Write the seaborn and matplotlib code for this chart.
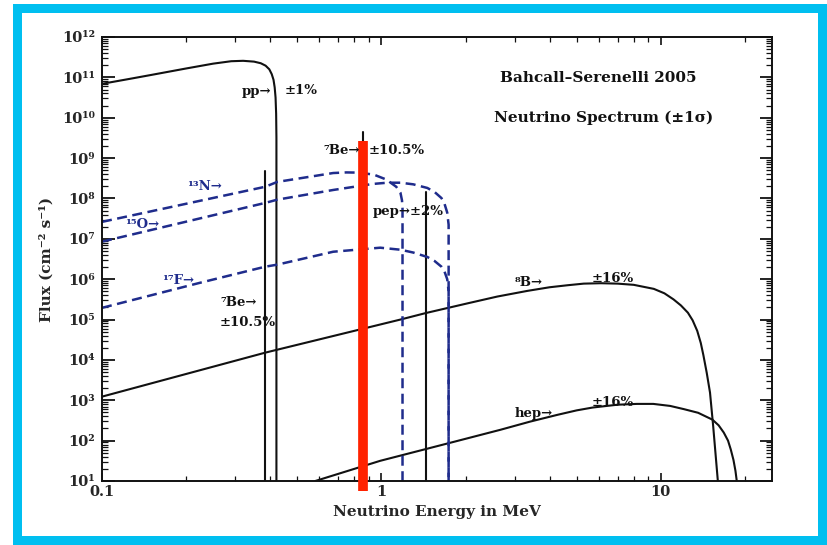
import numpy as np
import pandas as pd
import matplotlib
matplotlib.use("Agg")
import matplotlib.pyplot as plt
import seaborn as sns
from matplotlib.patches import Rectangle
from matplotlib.ticker import FixedLocator, FixedFormatter, LogLocator, NullFormatter

# ---------------- data ----------------
pp_E = [0.1, 0.125, 0.15, 0.2, 0.25, 0.29, 0.32, 0.35, 0.37, 0.385, 0.397, 0.405,
        0.411, 0.415, 0.418, 0.420, 0.421, 0.421]
pp_logF = [10.84, 10.96, 11.06, 11.22, 11.34, 11.40, 11.41, 11.39, 11.35, 11.29, 11.20, 11.08,
           10.94, 10.75, 10.50, 10.1, 9.5, 1.0]

b8_E = [0.1, 0.384, 1.17, 1.44, 2.03, 2.6, 3.33, 4.0, 4.64, 5.3, 6.1, 7.0, 8.0, 9.44, 10.3,
        11.1, 11.8, 12.5, 13.0, 13.5, 13.9, 14.2, 14.6, 15.0, 15.4, 16.0]
b8_logF = [3.09, 4.18, 5.00, 5.16, 5.40, 5.57, 5.71, 5.80, 5.85, 5.89, 5.90, 5.89, 5.86, 5.76,
           5.65, 5.50, 5.35, 5.17, 4.98, 4.72, 4.42, 4.12, 3.68, 3.19, 2.35, 1.0]

hep_E = [0.58, 0.99, 1.77, 2.67, 3.4, 4.27, 5.0, 5.7, 7.0, 8.2, 9.4, 10.8, 12.1, 13.6, 15.3,
         16.1, 16.8, 17.4, 17.8, 18.2, 18.5, 18.7]
hep_logF = [1.0, 1.50, 1.95, 2.27, 2.47, 2.64, 2.75, 2.82, 2.89, 2.91, 2.91, 2.86, 2.78, 2.69,
            2.52, 2.38, 2.20, 2.00, 1.78, 1.52, 1.25, 1.0]

n13_E = [0.1, 0.384, 0.424, 0.672, 0.75, 0.83, 0.94, 1.04, 1.13, 1.17, 1.185, 1.19, 1.19]
n13_logF = [7.42, 8.29, 8.41, 8.63, 8.645, 8.64, 8.59, 8.47, 8.29, 8.14, 7.95, 7.75, 1.0]

o15_E = [0.1, 0.384, 0.424, 0.672, 0.933, 1.05, 1.17, 1.3, 1.46, 1.55, 1.64, 1.68, 1.72,
         1.74, 1.74]
o15_logF = [6.93, 7.89, 7.97, 8.21, 8.36, 8.39, 8.39, 8.35, 8.26, 8.16, 8.01, 7.88, 7.65,
            7.35, 1.0]

f17_E = [0.1, 0.224, 0.384, 0.424, 0.672, 0.99, 1.17, 1.3, 1.46, 1.55, 1.64, 1.68, 1.72,
         1.74, 1.74]
f17_logF = [5.29, 5.91, 6.31, 6.36, 6.68, 6.78, 6.73, 6.66, 6.55, 6.45, 6.31, 6.2, 6.0,
            5.7, 1.0]

# line sources: energy (MeV) and top flux
line_E = [0.384, 0.862, 1.442]
line_top = [4.8e8, 4.5e9, 1.45e8]
line_bottom = 10

red_E = 0.862
red_top = 10 ** 9.43
red_bottom = 10 ** 0.74

x_ticks = [0.1, 1, 10]
x_ticklabels = ["0.1", "1", "10"]
y_ticks = [10.0 ** k for k in range(1, 13)]
y_ticklabels = ["10¹", "10²", "10³", "10⁴", "10⁵", "10⁶", "10⁷", "10⁸", "10⁹",
                "10¹⁰", "10¹¹", "10¹²"]

# ---------------- figure ----------------
sns.set_theme(style="ticks")
plt.rcParams["font.family"] = ["DejaVu Serif", "DejaVu Sans"]
plt.rcParams["font.weight"] = "bold"

W, H = 828, 545
fig = plt.figure(figsize=(W / 100, H / 100), dpi=100)
fig.patch.set_facecolor("white")
L, R, T, B = 102, 772, 37, 481
ax = fig.add_axes([L / W, 1 - B / H, (R - L) / W, (B - T) / H])
ax.set_xscale("log")
ax.set_yscale("log")
ax.set_xlim(0.1, 25)
ax.set_ylim(10, 1e12)

BLACK = "#111111"
NAVY = "#1f2c8c"

def line(x, y, **kw):
    df = pd.DataFrame({"E": x, "F": y})
    sns.lineplot(data=df, x="E", y="F", sort=False, estimator=None, ax=ax, **kw)

def pw(vals):
    return [10 ** v for v in vals]

line(pp_E, pw(pp_logF), color=BLACK, lw=1.5)
line(b8_E, pw(b8_logF), color=BLACK, lw=1.5)
line(hep_E, pw(hep_logF), color=BLACK, lw=1.5)
for e, top in zip(line_E, line_top):
    line([e, e], [line_bottom, top], color=BLACK, lw=1.5)
for xs, ls in [(n13_E, n13_logF), (o15_E, o15_logF), (f17_E, f17_logF)]:
    line(xs, pw(ls), color=NAVY, lw=1.8)
for l in ax.lines[-3:]:
    l.set_linestyle((0, (4, 2.2)))

# red marker bar
ax.plot([red_E, red_E], [red_bottom, red_top], color="#ff2200", lw=7,
        solid_capstyle="butt", clip_on=False, zorder=5)

# axes styling
for s in ax.spines.values():
    s.set_linewidth(1.4)
    s.set_color(BLACK)
ax.xaxis.set_major_locator(FixedLocator(x_ticks))
ax.xaxis.set_major_formatter(FixedFormatter(x_ticklabels))
ax.xaxis.set_minor_locator(LogLocator(base=10, subs=np.arange(2, 10)))
ax.xaxis.set_minor_formatter(NullFormatter())
ax.yaxis.set_major_locator(FixedLocator(y_ticks))
ax.yaxis.set_major_formatter(FixedFormatter(y_ticklabels))
ax.yaxis.set_minor_locator(LogLocator(base=10, subs=np.arange(2, 10), numticks=100))
ax.yaxis.set_minor_formatter(NullFormatter())
ax.tick_params(which="both", direction="in", top=True, right=True, color=BLACK)
ax.tick_params(axis="y", which="major", length=9, width=1.3, labelsize=10.5, pad=5)
ax.tick_params(axis="y", which="minor", length=4, width=0.9)
ax.tick_params(axis="x", which="major", length=6, width=1.2, labelsize=10.5, pad=3)
ax.tick_params(axis="x", which="minor", length=3.5, width=0.9)
for lab in ax.get_xticklabels() + ax.get_yticklabels():
    lab.set_fontweight("bold")
ax.set_xlabel("Neutrino Energy in MeV", fontsize=11, fontweight="bold", labelpad=4)
ax.set_ylabel("Flux (cm⁻² s⁻¹)", fontsize=11, fontweight="bold", labelpad=6)

def fx(px):
    return (px - L) / (R - L)

def fy(py):
    return (B - py) / (B - T)

def label(px, py, s, color=BLACK, size=9.5, ha="left"):
    ax.text(fx(px), fy(py), s, transform=ax.transAxes, ha=ha, va="center",
            fontsize=size, fontweight="bold", color=color, zorder=6)

label(242, 91, "pp→")
label(285, 91, "±1%")
label(323, 150, "⁷Be→")
label(369, 150, "±10.5%")
label(373, 212, "pep→±2%")
label(187, 187, "¹³N→", color=NAVY)
label(125, 225, "¹⁵O→", color=NAVY)
label(162, 280, "¹⁷F→", color=NAVY)
label(220, 302, "⁷Be→")
label(220, 322, "±10.5%")
label(515, 283, "⁸B→")
label(592, 278, "±16%")
label(515, 413, "hep→")
label(592, 402, "±16%")
label(598, 78, "Bahcall–Serenelli 2005", size=11, ha="center")
label(604, 118, "Neutrino Spectrum (±1σ)", size=11, ha="center")

# light-blue frame
bw = 9
fig.patches.append(Rectangle((17.5 / W, 1 - 539.5 / H), (822.5 - 17.5) / W, (539.5 - 7.5) / H,
                             transform=fig.transFigure, fill=False,
                             edgecolor="#00bff0", linewidth=bw * 72 / 100))

fig.savefig("out.png", dpi=100, facecolor="white")
